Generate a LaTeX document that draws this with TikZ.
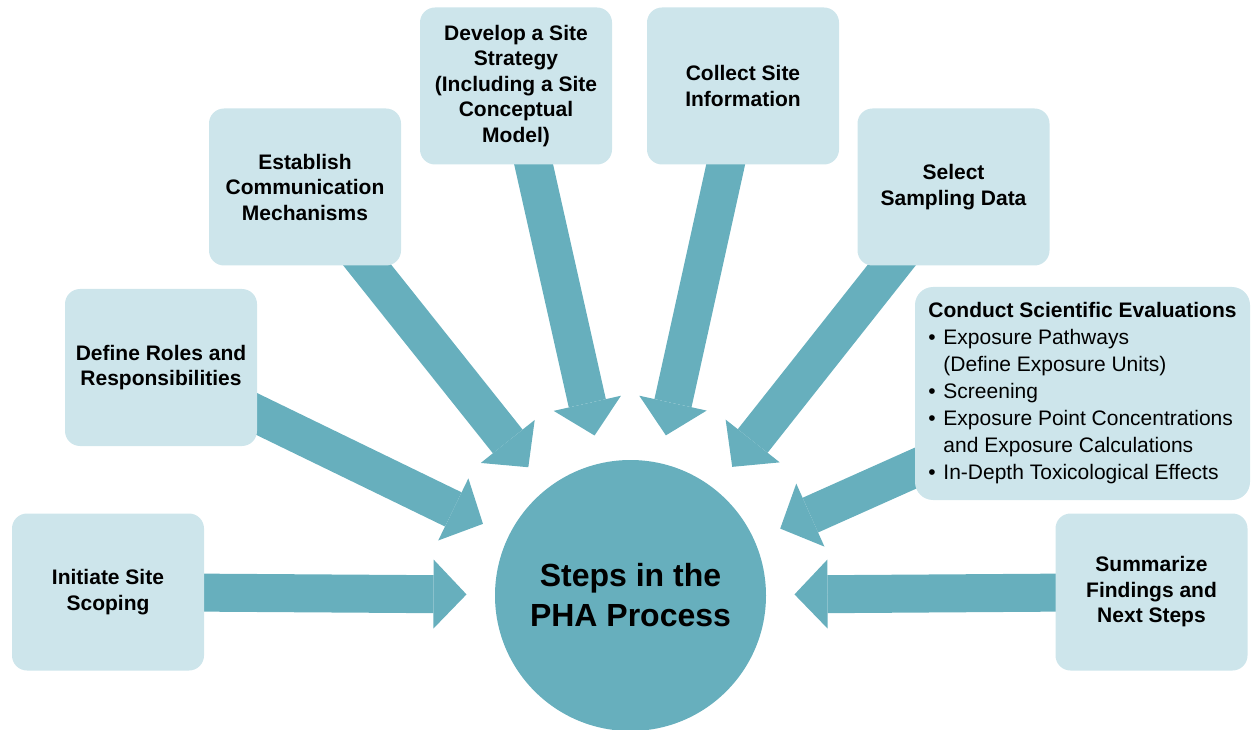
\documentclass[tikz,border=0pt]{standalone}
\usepackage{fontspec}
\setmainfont{Liberation Sans}
\usetikzlibrary{arrows.meta,calc,backgrounds}
\definecolor{boxfill}{RGB}{205,229,235}
\definecolor{phateal}{RGB}{103,175,189}

\begin{document}
\begin{tikzpicture}[x=1pt,y=-1pt,
  stepbox/.style={rectangle,rounded corners=15pt,fill=boxfill,minimum width=192pt,minimum height=157pt,
    inner sep=4pt,align=center,font=\fontsize{21}{25.5}\selectfont\bfseries},
  blockarr/.style={draw=phateal,line width=38pt,-{Triangle[length=33pt,width=69pt,line width=0pt]}}]
  \useasboundingbox (0,0) rectangle (1254,730);
  \node[circle,fill=phateal,minimum size=271pt,inner sep=0pt,align=center,font=\fontsize{32}{40}\selectfont\bfseries] (pha) at (630.5,595.5) {Steps in the\\PHA Process};
  \node[stepbox] (init) at (108,592) {Initiate Site\\Scoping};
  \node[stepbox] (roles) at (161,367.5) {Define Roles and\\Responsibilities};
  \node[stepbox] (comm) at (305,187) {Establish\\Communication\\Mechanisms};
  \node[stepbox] (strategy) at (516,86) {Develop a Site\\Strategy\\(Including a Site\\Conceptual\\Model)};
  \node[stepbox] (collect) at (743,86) {Collect Site\\Information};
  \node[stepbox] (sampling) at (953.5,187) {Select\\Sampling Data};
  \node[stepbox,rounded corners=18pt,minimum width=335pt,minimum height=213pt,align=left,font=\fontsize{21}{27}\selectfont] (evals) at (1082.5,393.5)
    {\textbf{Conduct Scientific Evaluations}\\
     \makebox[15pt][l]{\textbullet}Exposure Pathways\\
     \hspace*{15pt}(Define Exposure Units)\\
     \makebox[15pt][l]{\textbullet}Screening\\
     \makebox[15pt][l]{\textbullet}Exposure Point Concentrations\\
     \hspace*{15pt}and Exposure Calculations\\
     \makebox[15pt][l]{\textbullet}In-Depth Toxicological Effects};
  \node[stepbox] (summary) at (1151.5,592) {Summarize\\Findings and\\Next Steps};
  % block arrows pointing at the circle
  \begin{scope}[on background layer]
    \draw[blockarr] (init.center) -- ($(pha.center)!164pt!(init.center)$);
    \draw[blockarr] (roles.center) -- ($(pha.center)!164pt!(roles.center)$);
    \draw[blockarr] (comm.center) -- ($(pha.center)!164pt!(comm.center)$);
    \draw[blockarr] (strategy.center) -- ($(pha.center)!164pt!(strategy.center)$);
    \draw[blockarr] (collect.center) -- ($(pha.center)!164pt!(collect.center)$);
    \draw[blockarr] (sampling.center) -- ($(pha.center)!164pt!(sampling.center)$);
    \draw[blockarr] (evals.center) -- ($(pha.center)!164pt!(evals.center)$);
    \draw[blockarr] (summary.center) -- ($(pha.center)!164pt!(summary.center)$);
  \end{scope}
\end{tikzpicture}
\end{document}
